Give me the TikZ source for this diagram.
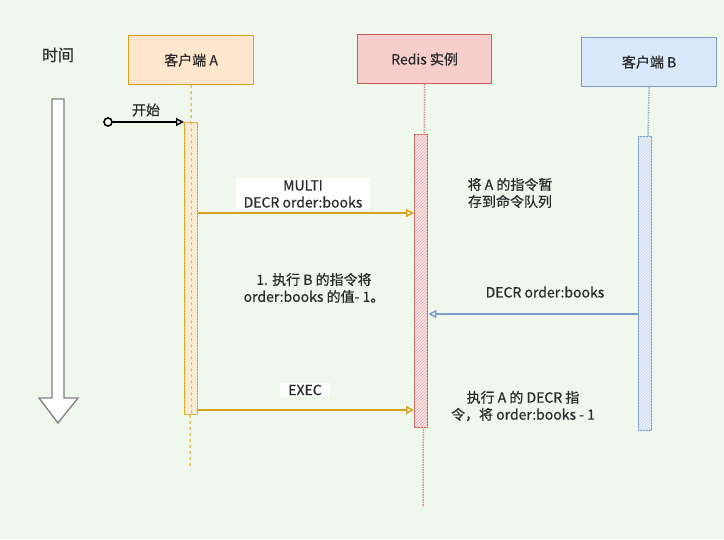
\documentclass[tikz,border=0pt]{standalone}
\usepackage{fontspec}
\setmainfont{Noto Sans CJK SC}[FakeBold=0.6]
\usetikzlibrary{arrows.meta,patterns}
\definecolor{bgc}{HTML}{F0F8EE}
\definecolor{orA}{HTML}{D6A21E}
\definecolor{orFill}{HTML}{FFE6CC}
\definecolor{rdB}{HTML}{C8615C}
\definecolor{rdFill}{HTML}{F8CECC}
\definecolor{blB}{HTML}{7C9CCB}
\definecolor{blFill}{HTML}{DAE8FC}
\definecolor{txt}{HTML}{2A2A2A}
\definecolor{grayC}{HTML}{808080}
\begin{document}
\begin{tikzpicture}[x=1pt,y=-1pt,
  every node/.style={text=txt,font=\fontsize{14}{17}\selectfont},
  headbox/.style={draw,line width=1.2pt,minimum width=#1,minimum height=49pt,inner sep=0pt,anchor=north west},
  msg/.style={line width=1.4pt,-{Triangle[open,length=8pt,width=8pt]}},
  lbl/.style={fill=white,inner xsep=8pt,inner ysep=2pt,align=center},
  note/.style={align=center}]
\fill[bgc] (0,0) rectangle (724,539);
\useasboundingbox (0,0) rectangle (724,539);
% time
\node[font=\fontsize{16}{19}\selectfont] (time) at (58,55) {时间};
\draw[grayC,fill=white,line width=1.3pt] (52,99) -- (64,99) -- (64,398) -- (78,398) -- (58,423) -- (39,398) -- (52,398) -- cycle;
% heads
\node[headbox=125pt,draw=orA,fill=orFill] (A) at (128,35) {};
\node at (A.center) {客户端 A};
\node[headbox=134pt,draw=rdB,fill=rdFill] (R) at (357,34) {};
\node at (R.center) {Redis 实例};
\node[headbox=135pt,draw=blB,fill=blFill] (B) at (581,37) {};
\node at (B.center) {客户端 B};
% lifelines
\coordinate (Aend) at (190,467);
\coordinate (Rend) at (423,507);
\draw[orA,dashed,line width=1pt] (A.south) -- (Aend);
\draw[rdB!70,densely dotted,line width=1.5pt] (R.south) -- (Rend);
\draw[blB!80,densely dotted,line width=1.5pt] (B.south) -- (648,136);
% activations
\node[draw=orA,line width=1.3pt,fill=orFill!40,minimum width=13pt,minimum height=292pt,inner sep=0pt,anchor=north west,postaction={pattern=north east lines,pattern color=orA!40}] (actA) at (184,122) {};
\draw[orA!70,dashed,line width=0.7pt] (actA.north) -- (actA.south);
\node[draw=rdB,line width=1.3pt,fill=rdFill!50,minimum width=13pt,minimum height=293pt,inner sep=0pt,anchor=north west,postaction={pattern=north east lines,pattern color=rdB!50}] (actR) at (414,134) {};
\node[draw=blB,line width=1.3pt,fill=blFill!60,minimum width=13pt,minimum height=294pt,inner sep=0pt,anchor=north west,postaction={pattern=north east lines,pattern color=blB!40}] (actB) at (638,136) {};
% start
\coordinate (st) at (108,122);
\draw[line width=1.4pt,-{Triangle[open,length=8pt,width=8pt]}] (st) -- (actA.west |- st);
\draw[line width=1.6pt,fill=white] (st) circle (4pt);
\node (startl) at (146,110) {开始};
% messages
\draw[msg,orA] (actA.east |- 0,213) -- (actR.west |- 0,213);
\node[lbl] (m1) at (303,194) {MULTI\\DECR order:books};
\node[note] (n1) at (510,193) {将 A 的指令暂\\存到命令队列};
\node[note] (n2) at (314,288) {1. 执行 B 的指令将\\order:books 的值- 1。};
\draw[msg,blB] (actB.west |- 0,314) -- (actR.east |- 0,314);
\node (m2) at (545,292) {DECR order:books};
\draw[msg,orA] (actA.east |- 0,410) -- (actR.west |- 0,410);
\node[lbl] (m3) at (305,390) {EXEC};
\node[note] (n3) at (523,406) {执行 A 的 DECR 指\\令，将 order:books - 1};
\end{tikzpicture}
\end{document}
